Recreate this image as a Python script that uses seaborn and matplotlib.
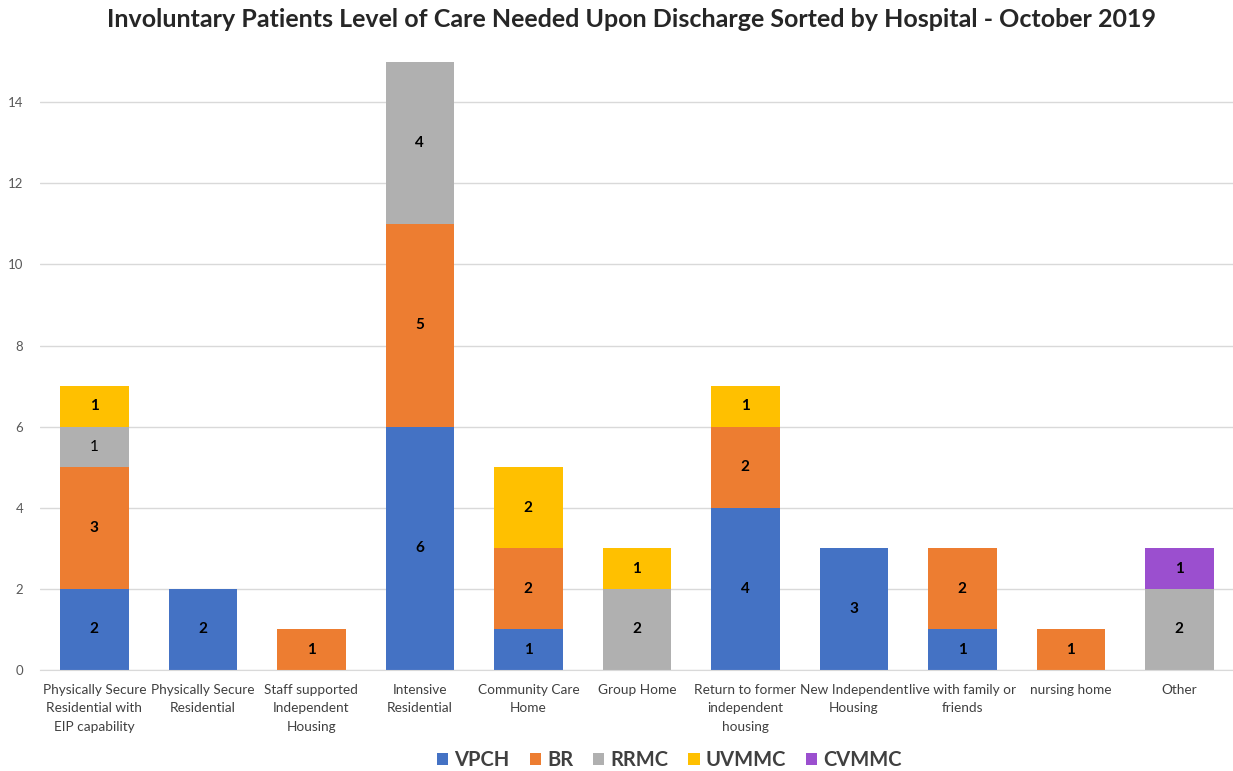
import numpy as np
import pandas as pd
import matplotlib
matplotlib.use("Agg")
import matplotlib.pyplot as plt
import seaborn as sns

categories = [
    "Physically Secure\nResidential with\nEIP capability",
    "Physically Secure\nResidential",
    "Staff supported\nIndependent\nHousing",
    "Intensive\nResidential",
    "Community Care\nHome",
    "Group Home",
    "Return to former\nindependent\nhousing",
    "New Independent\nHousing",
    "live with family or\nfriends",
    "nursing home",
    "Other",
]
hospitals = ["VPCH", "BR", "RRMC", "UVMMC", "CVMMC"]
vpch = [2, 2, 0, 6, 1, 0, 4, 3, 1, 0, 0]
br = [3, 0, 1, 5, 2, 0, 2, 0, 2, 1, 0]
rrmc = [1, 0, 0, 4, 0, 2, 0, 0, 0, 0, 2]
uvmmc = [1, 0, 0, 0, 2, 1, 1, 0, 0, 0, 0]
cvmmc = [0, 0, 0, 0, 0, 0, 0, 0, 0, 0, 1]
colors = ["#4472C4", "#ED7D31", "#B0B0B0", "#FFC000", "#9B4FCF"]

sns.set_style("white")
plt.rcParams["font.family"] = ["Lato", "DejaVu Sans"]

fig = plt.figure(figsize=(12.33, 7.71), dpi=100)
ax = fig.add_axes([0.0325, 0.131, 0.968, 0.789])

series = [vpch, br, rrmc, uvmmc, cvmmc]
bottom = np.zeros(len(categories))
for name, vals, col in zip(hospitals, series, colors):
    vals = np.array(vals, dtype=float)
    n_before = len(ax.patches)
    sns.barplot(x=categories, y=vals, bottom=bottom, color=col, width=0.63,
                ax=ax, label=name, saturation=1, linewidth=0)
    bars = ax.patches[n_before:]
    for i, (b, v) in enumerate(zip(bars, vals)):
        if v > 0:
            # the single RRMC label on the first bar is drawn in regular weight
            weight = "normal" if (name == "RRMC" and i == 0) else "bold"
            ax.text(b.get_x() + b.get_width() / 2, bottom[i] + v / 2, f"{int(v)}",
                    ha="center", va="center", fontsize=11, fontweight=weight,
                    color="black")
    bottom += vals

handles, labels = ax.get_legend_handles_labels()
if ax.get_legend() is not None:
    ax.get_legend().remove()

ax.set_ylim(0, 15)
ax.set_xlim(-0.5, len(categories) - 0.5)
ax.set_yticks(range(0, 15, 2))
ax.yaxis.grid(True, color="#d9d9d9", linewidth=1)
ax.set_axisbelow(True)
for s in ["top", "right", "left"]:
    ax.spines[s].set_visible(False)
ax.spines["bottom"].set_color("#d9d9d9")
ax.tick_params(axis="y", length=0, labelsize=9.5, labelcolor="#595959", pad=12)
ax.tick_params(axis="x", length=0, labelsize=9.8, labelcolor="#404040", pad=10)
for lbl in ax.get_xticklabels():
    lbl.set_verticalalignment("top")
    lbl.set_linespacing(1.65)

fig.suptitle("Involuntary Patients Level of Care Needed Upon Discharge Sorted by Hospital - October 2019",
             fontsize=18, fontweight="bold", y=0.99, x=0.512)

leg = fig.legend(handles, labels, loc="lower center", bbox_to_anchor=(0.543, -0.022), ncol=5,
                 frameon=False, handlelength=0.55, handleheight=0.55, handletextpad=0.3,
                 columnspacing=1.0, prop={"weight": "bold", "size": 14.5})
for t in leg.get_texts():
    t.set_color("#404040")

fig.savefig("out.png", dpi=100)
